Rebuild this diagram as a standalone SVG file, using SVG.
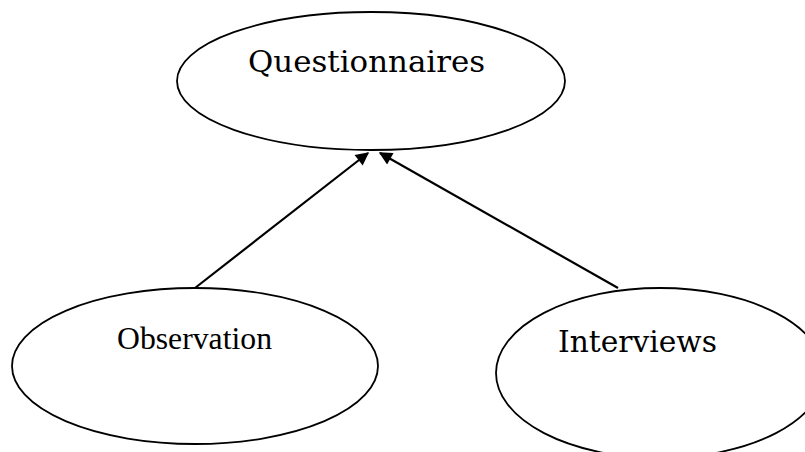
<svg xmlns="http://www.w3.org/2000/svg" width="805" height="452" viewBox="0 0 805 452">
<style>
.n{fill:#fff;stroke:#000;stroke-width:1.8}
.c{stroke:#000;stroke-width:2.2;fill:none}
.b{font-family:"DejaVu Serif","Liberation Serif",serif;font-size:30px;fill:#000}
.t{font-family:"Liberation Serif",serif;font-size:31px;fill:#000}
</style>
<defs>
<marker id="ah" viewBox="0 0 10 10" refX="9" refY="5" markerWidth="6.5" markerHeight="6" orient="auto" markerUnits="strokeWidth">
<path d="M0,0 L10,5 L0,10 z" fill="#000"/>
</marker>
</defs>
<g id="questionnaires">
<ellipse class="n" cx="371" cy="81" rx="194" ry="69"/>
<text class="b" x="248" y="72" textLength="237" lengthAdjust="spacingAndGlyphs">Questionnaires</text>
</g>
<g id="observation">
<ellipse class="n" cx="195" cy="366" rx="183" ry="78"/>
<text class="t" x="117" y="349" textLength="155" lengthAdjust="spacingAndGlyphs">Observation</text>
</g>
<g id="interviews">
<ellipse class="n" cx="660" cy="373" rx="164" ry="85"/>
<text class="b" x="558" y="352" textLength="159" lengthAdjust="spacingAndGlyphs">Interviews</text>
</g>
<g id="connectors">
<line class="c" x1="195" y1="288" x2="368" y2="153" marker-end="url(#ah)"/>
<line class="c" x1="618" y1="288" x2="380" y2="153" marker-end="url(#ah)"/>
</g>
</svg>
